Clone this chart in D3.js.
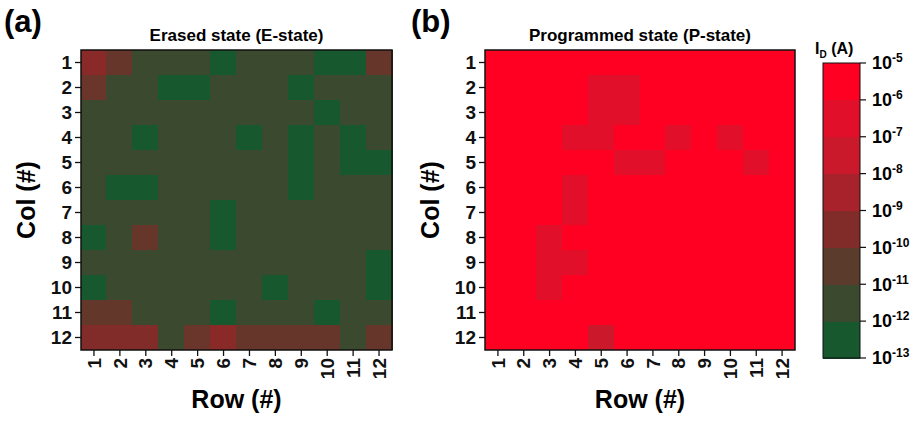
<!DOCTYPE html>
<html>
<head>
<meta charset="utf-8">
<script src="https://cdnjs.cloudflare.com/ajax/libs/d3/7.8.5/d3.min.js"></script>
<style>
  html, body { margin: 0; padding: 0; background: #fff; }
  svg { display: block; font-family: "Liberation Sans", Arial, sans-serif; font-weight: bold; }
</style>
</head>
<body>
<svg id="chart" width="921" height="421"></svg>
<script>
// axis labels
const rowLabels = ['1', '2', '3', '4', '5', '6', '7', '8', '9', '10', '11', '12'];
const colLabels = ['1', '2', '3', '4', '5', '6', '7', '8', '9', '10', '11', '12'];

// log10(I_D) per cell, one array per Col (#), entries by Row (#)
const erasedLog = [
  [-9.3, -10.2, -11.5, -11.5, -11.5, -12.5, -11.5, -11.5, -11.5, -12.5, -12.5, -10.2],
  [-10.1, -11.5, -11.5, -12.5, -12.5, -11.5, -11.5, -11.5, -12.5, -11.5, -11.5, -11.5],
  [-11.5, -11.5, -11.5, -11.5, -11.5, -11.5, -11.5, -11.5, -11.5, -12.5, -11.5, -11.5],
  [-11.5, -11.5, -12.5, -11.5, -11.5, -11.5, -12.5, -11.5, -12.5, -11.5, -12.5, -11.5],
  [-11.5, -11.5, -11.5, -11.5, -11.5, -11.5, -11.5, -11.5, -12.5, -11.5, -12.5, -12.5],
  [-11.5, -12.5, -12.5, -11.5, -11.5, -11.5, -11.5, -11.5, -12.5, -11.5, -11.5, -11.5],
  [-11.5, -11.5, -11.5, -11.5, -11.5, -12.5, -11.5, -11.5, -11.5, -11.5, -11.5, -11.5],
  [-12.5, -11.5, -10.2, -11.5, -11.5, -12.5, -11.5, -11.5, -11.5, -11.5, -11.5, -11.5],
  [-11.5, -11.5, -11.5, -11.5, -11.5, -11.5, -11.5, -11.5, -11.5, -11.5, -11.5, -12.5],
  [-12.5, -11.5, -11.5, -11.5, -11.5, -11.5, -11.5, -12.5, -11.5, -11.5, -11.5, -12.5],
  [-10.3, -10.3, -11.5, -11.5, -11.5, -12.5, -11.5, -11.5, -11.5, -12.5, -11.5, -11.5],
  [-9.5, -9.5, -9.5, -11.5, -10.1, -9.3, -10.2, -10.2, -10.2, -10.2, -11.5, -10.2]
];

const programmedLog = [
  [-5.5, -5.5, -5.5, -5.5, -5.5, -5.5, -5.5, -5.5, -5.5, -5.5, -5.5, -5.5],
  [-5.5, -5.5, -5.5, -5.5, -6.5, -6.5, -5.5, -5.5, -5.5, -5.5, -5.5, -5.5],
  [-5.5, -5.5, -5.5, -5.5, -6.5, -6.5, -5.5, -5.5, -5.5, -5.5, -5.5, -5.5],
  [-5.5, -5.5, -5.5, -6.5, -6.5, -5.5, -5.5, -6.5, -5.5, -6.5, -5.5, -5.5],
  [-5.5, -5.5, -5.5, -5.5, -5.5, -6.5, -6.5, -5.5, -5.5, -5.5, -6.5, -5.5],
  [-5.5, -5.5, -5.5, -6.5, -5.5, -5.5, -5.5, -5.5, -5.5, -5.5, -5.5, -5.5],
  [-5.5, -5.5, -5.5, -6.5, -5.5, -5.5, -5.5, -5.5, -5.5, -5.5, -5.5, -5.5],
  [-5.5, -5.5, -6.5, -5.5, -5.5, -5.5, -5.5, -5.5, -5.5, -5.5, -5.5, -5.5],
  [-5.5, -5.5, -6.5, -6.5, -5.5, -5.5, -5.5, -5.5, -5.5, -5.5, -5.5, -5.5],
  [-5.5, -5.5, -6.5, -5.5, -5.5, -5.5, -5.5, -5.5, -5.5, -5.5, -5.5, -5.5],
  [-5.5, -5.5, -5.5, -5.5, -5.5, -5.5, -5.5, -5.5, -5.5, -5.5, -5.5, -5.5],
  [-5.5, -5.5, -5.5, -5.5, -7.4, -5.5, -5.5, -5.5, -5.5, -5.5, -5.5, -5.5]
];

// colorbar ticks (exponents of 10)
const barExponents = [-5, -6, -7, -8, -9, -10, -11, -12, -13];

// band colours, from 1e-13..1e-12 up to 1e-6..1e-5
const bandColors = ['#17582f', '#3b4a2e', '#5b3b2b', '#812c29', '#a8222b', '#c9192b', '#e20f2a', '#ff0022'];

const svg = d3.select('#chart');

const color = d3.scaleLinear()
  .domain(d3.range(8).map(i => -12.5 + i))
  .range(bandColors)
  .clamp(true);

function drawPanel(cfg) {
  const g = svg.append('g');
  const x = d3.scaleBand().domain(rowLabels).range([cfg.left, cfg.right]);
  const y = d3.scaleBand().domain(colLabels).range([cfg.top, cfg.bottom]);

  const cells = [];
  cfg.data.forEach((row, i) => row.forEach((v, j) => cells.push({ r: rowLabels[j], c: colLabels[i], v })));

  g.selectAll('rect.cell')
    .data(cells)
    .join('rect')
    .attr('class', 'cell')
    .attr('x', d => Math.floor(x(d.r)))
    .attr('y', d => Math.floor(y(d.c)))
    .attr('width', d => Math.ceil(x(d.r) + x.bandwidth()) - Math.floor(x(d.r)))
    .attr('height', d => Math.ceil(y(d.c) + y.bandwidth()) - Math.floor(y(d.c)))
    .attr('shape-rendering', 'crispEdges')
    .attr('fill', d => color(d.v));

  g.append('rect')
    .attr('x', cfg.left).attr('y', cfg.top)
    .attr('width', cfg.right - cfg.left).attr('height', cfg.bottom - cfg.top)
    .attr('fill', 'none').attr('stroke', '#111').attr('stroke-width', 1.5);

  // left axis
  const ya = g.append('g')
    .attr('transform', `translate(${cfg.left},0)`)
    .call(d3.axisLeft(y).tickSize(6).tickPadding(3));
  ya.select('.domain').remove();
  ya.selectAll('line').attr('stroke', '#111').attr('stroke-width', 1.3);
  ya.selectAll('text').attr('font-size', 19).attr('font-weight', 'bold').attr('fill', '#111')
    .attr('font-family', '"Liberation Sans", Arial, sans-serif');

  // bottom axis
  const xa = g.append('g')
    .attr('transform', `translate(0,${cfg.bottom})`)
    .call(d3.axisBottom(x).tickSize(6));
  xa.select('.domain').remove();
  xa.selectAll('line').attr('stroke', '#111').attr('stroke-width', 1.3);
  xa.selectAll('text')
    .attr('font-size', 19).attr('font-weight', 'bold').attr('fill', '#111')
    .attr('font-family', '"Liberation Sans", Arial, sans-serif')
    .attr('transform', 'rotate(-90)')
    .attr('text-anchor', 'end')
    .attr('x', -8).attr('y', 0).attr('dy', '0.35em');

  const cx = (cfg.left + cfg.right) / 2;
  g.append('text')
    .attr('x', cx).attr('y', 41)
    .attr('text-anchor', 'middle').attr('font-size', 17)
    .text(cfg.title);

  g.append('text')
    .attr('x', cx).attr('y', 408)
    .attr('text-anchor', 'middle').attr('font-size', 25)
    .text('Row (#)');

  g.append('text')
    .attr('transform', `translate(${cfg.left - 46},${(cfg.top + cfg.bottom) / 2}) rotate(-90)`)
    .attr('text-anchor', 'middle').attr('font-size', 25)
    .text('Col (#)');

  g.append('text')
    .attr('x', cfg.letterX).attr('y', 32)
    .attr('font-size', 31)
    .text(cfg.letter);
}

drawPanel({ left: 81, right: 392, top: 50, bottom: 350, data: erasedLog,
  title: 'Erased state (E-state)', letter: '(a)', letterX: 4 });
drawPanel({ left: 485, right: 795, top: 50, bottom: 350, data: programmedLog,
  title: 'Programmed state (P-state)', letter: '(b)', letterX: 411 });

// colorbar
const cb = { left: 823, width: 37, top: 63, bottom: 358 };
const cy = d3.scaleLinear().domain([-5, -13]).range([cb.top, cb.bottom]);
const bands = d3.range(-13, -5);
svg.append('g').selectAll('rect')
  .data(bands)
  .join('rect')
  .attr('x', cb.left)
  .attr('y', d => cy(d + 1))
  .attr('width', cb.width)
  .attr('height', d => cy(d) - cy(d + 1) + 0.5)
  .attr('shape-rendering', 'crispEdges')
  .attr('fill', d => color(d + 0.5));
svg.append('rect')
  .attr('x', cb.left).attr('y', cb.top)
  .attr('width', cb.width).attr('height', cb.bottom - cb.top)
  .attr('fill', 'none').attr('stroke', '#111').attr('stroke-width', 1);

const ticks = svg.append('g').selectAll('g')
  .data(barExponents)
  .join('g')
  .attr('transform', d => `translate(${cb.left + cb.width},${cy(d)})`);
ticks.append('line').attr('x2', 6).attr('stroke', '#111').attr('stroke-width', 1.2);
const lbl = ticks.append('text')
  .attr('x', 12).attr('dy', '0.35em')
  .attr('font-size', 18);
lbl.append('tspan').text('10');
lbl.append('tspan').attr('dy', -7).attr('font-size', 12).text(d => String(d));

const ttl = svg.append('text')
  .attr('x', 815).attr('y', 54)
  .attr('font-size', 16);
ttl.append('tspan').text('I');
ttl.append('tspan').attr('dy', 4).attr('font-size', 10).text('D');
ttl.append('tspan').attr('dy', -4).text(' (A)');
</script>
</body>
</html>
